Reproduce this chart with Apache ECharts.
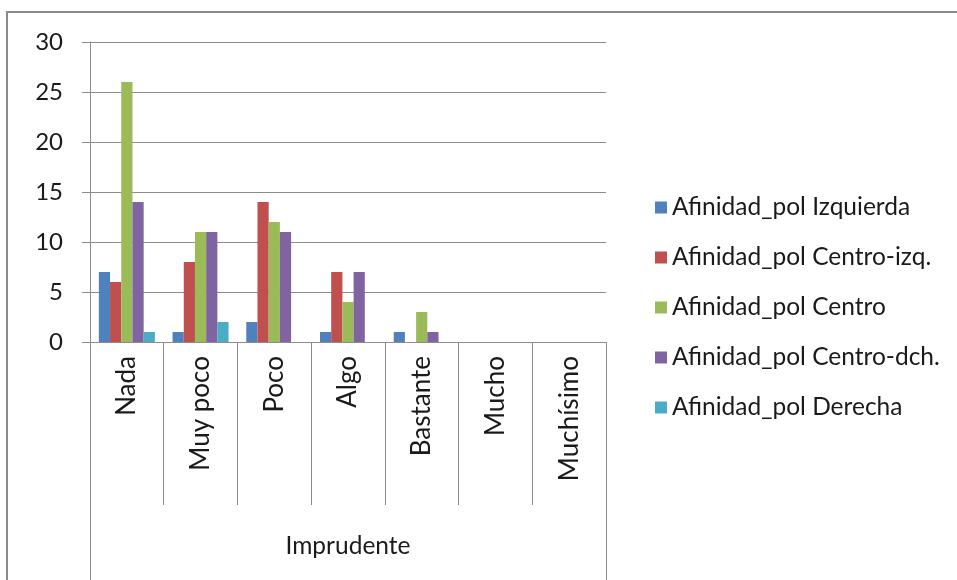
<!DOCTYPE html>
<html><head><meta charset="utf-8">
<script src="https://cdn.jsdelivr.net/npm/echarts@6/dist/echarts.min.js"></script>
<style>html,body{margin:0;padding:0;background:#fff}#c{width:957px;height:580px}</style>
</head><body><div id="c"></div>
<script>
const categories = ['Nada','Muy poco','Poco','Algo','Bastante','Mucho','Muchísimo'];
const groupLabel = ['Imprudente'];
const seriesNames = ['Afinidad_pol Izquierda','Afinidad_pol Centro-izq.','Afinidad_pol Centro','Afinidad_pol Centro-dch.','Afinidad_pol Derecha'];
const izquierda = [7,1,2,1,1,0,0];
const centroIzq = [6,8,14,7,0,0,0];
const centro = [26,11,12,4,3,0,0];
const centroDch = [14,11,11,7,1,0,0];
const derecha = [1,2,0,0,0,0,0];
const yTicks = {min:0, max:30, interval:5};
const colors = ['#4F81BD','#C0504D','#9BBB59','#8064A2','#4BACC6'];
const FONT = 'Lato';
const chart = echarts.init(document.getElementById('c'), null, {renderer:'canvas'});
const values = [izquierda, centroIzq, centro, centroDch, derecha];
chart.setOption({
  animation:false,
  color: colors,
  textStyle:{fontFamily:FONT},
  graphic:[{type:'rect', shape:{x:7,y:12,width:1000,height:1000}, style:{fill:'none', stroke:'#8a8a8a', lineWidth:2}, z:-1}],
  grid:{left:90, right:351, top:42, bottom:238},
  legend:{
    orient:'vertical', left:650, top:190, itemWidth:12, itemHeight:12, itemGap:25,
    icon:'rect', data:seriesNames,
    textStyle:{fontFamily:FONT, fontSize:24.5, color:'#1a1a1a', lineHeight:24}
  },
  xAxis:[{
    type:'category', data:categories, position:'bottom',
    axisLine:{show:true, lineStyle:{color:'#8c8c8c', width:1}},
    axisTick:{show:true, interval:0, length:163, lineStyle:{color:'#8c8c8c'}},
    axisLabel:{interval:0, rotate:90, margin:14, fontFamily:FONT, fontSize:26, color:'#1a1a1a'},
    splitLine:{show:false}
  },{
    type:'category', data:groupLabel, position:'bottom', gridIndex:0,
    axisLine:{show:false},
    axisTick:{show:true, length:238, lineStyle:{color:'#8c8c8c'}},
    axisLabel:{margin:192, fontFamily:FONT, fontSize:24.5, color:'#1a1a1a'},
    splitLine:{show:false}
  }],
  yAxis:{
    type:'value', min:yTicks.min, max:yTicks.max, interval:yTicks.interval,
    axisLine:{show:true, lineStyle:{color:'#8c8c8c'}},
    axisTick:{show:true, length:8, lineStyle:{color:'#8c8c8c'}},
    axisLabel:{margin:27, fontFamily:FONT, fontSize:24, color:'#1a1a1a'},
    splitLine:{show:true, lineStyle:{color:'#8c8c8c', width:1}}
  },
  series: seriesNames.map((n,i)=>({
    name:n, type:'bar', xAxisIndex:0, data:values[i],
    barGap:'0%', barCategoryGap:'24%'
  }))
});
</script></body></html>
